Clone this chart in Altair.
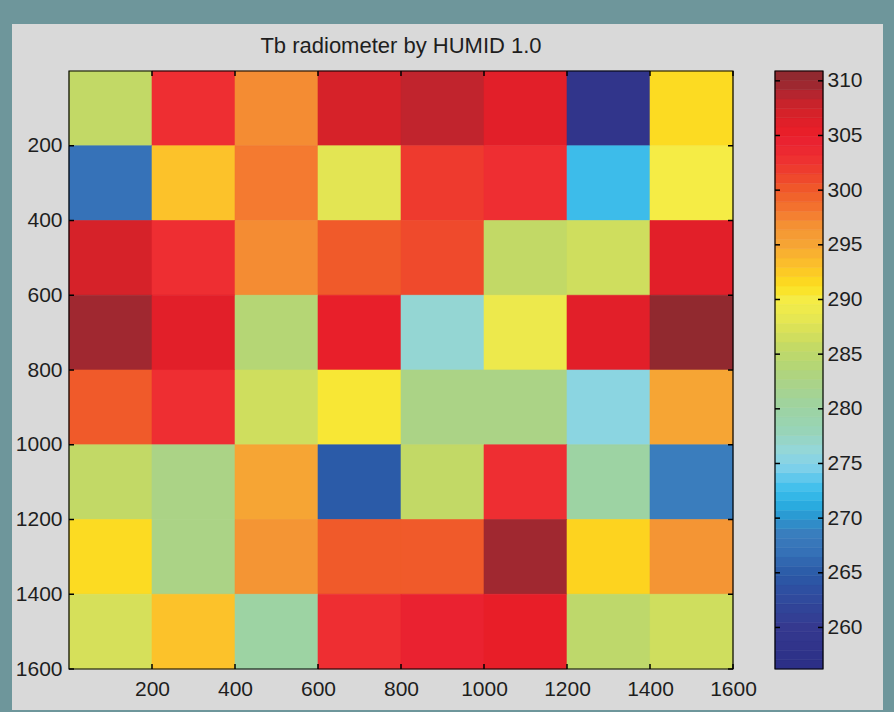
import altair as alt
import pandas as pd

# ---- data -------------------------------------------------------------
TITLE = "Tb radiometer by HUMID 1.0"
edges = [0, 200, 400, 600, 800, 1000, 1200, 1400, 1600]
ticks = [200, 400, 600, 800, 1000, 1200, 1400, 1600]

# brightness temperature (K), one list per image row, top to bottom
tb_rows = [
    [285.5, 303.0, 297.0, 307.0, 308.3, 306.0, 258.5, 291.5],
    [267.0, 293.0, 298.0, 288.0, 302.0, 303.0, 272.5, 290.0],
    [307.0, 303.0, 297.0, 300.0, 301.0, 285.5, 286.5, 306.0],
    [309.5, 306.0, 284.0, 305.3, 276.5, 289.0, 306.0, 310.5],
    [300.0, 303.0, 286.5, 290.5, 282.5, 282.5, 275.5, 295.0],
    [285.5, 282.5, 295.0, 265.0, 285.5, 303.0, 280.0, 268.5],
    [291.5, 282.5, 296.5, 300.0, 300.0, 309.5, 292.0, 296.5],
    [287.0, 293.0, 280.0, 303.0, 304.5, 305.5, 285.0, 286.5],
]

clim = [256.2, 310.9]
cbar_ticks = [260, 265, 270, 275, 280, 285, 290, 295, 300, 305, 310]
n_levels = 64

# colormap control points
cmap_stops = [256.2, 260, 263, 265, 267, 268.5, 270, 271.5, 273, 274.5, 276,
              278, 280, 282.5, 284, 285.5, 287, 288.5, 290, 291, 292, 293,
              294, 295, 296.5, 298, 299, 300, 301, 302, 303, 304.5, 305.5,
              306.5, 307.5, 308.5, 309.5, 310.9]
cmap_colors = ["#2b2e86", "#35398f", "#2f4c9f", "#2b5ba8", "#3672b8", "#3a7dbd",
               "#2a95cf", "#2ab2e4", "#47c1ed", "#7bd0eb", "#93d7dc",
               "#98d4b8", "#9dd3a3", "#abd386", "#b5d675", "#c2d966", "#d6e05a",
               "#e9e850", "#f5ec45", "#fbe225", "#fdd31f", "#fcc22a",
               "#fab52f", "#f6a534", "#f49534", "#f47a30", "#f2682c", "#f05a2a",
               "#ef4a2c", "#ee3a2e", "#ee2e32", "#ea2230", "#e81e28",
               "#dc2029", "#cf2329", "#bd242e", "#a02830", "#8b2a2f"]

# ---- tables -----------------------------------------------------------
cells = pd.DataFrame([
    {"x0": edges[c], "x1": edges[c + 1], "y0": edges[r], "y1": edges[r + 1], "tb": v}
    for r, row in enumerate(tb_rows) for c, v in enumerate(row)
])
tick_df = pd.DataFrame({"t": ticks})

step = (clim[1] - clim[0]) / n_levels
bands = pd.DataFrame({"i": range(n_levels)})
bands["lo"] = clim[0] + bands["i"] * step
bands["hi"] = bands["lo"] + step
bands["mid"] = bands["lo"] + step / 2
cbar_df = pd.DataFrame({"t": cbar_ticks})

# ---- styling ----------------------------------------------------------
FONT = "Liberation Sans"
TXT = "#1e1e1e"
PANEL = "#d9d9d9"
OUTER = "#6e969b"
W, H = 664, 598
CB_W = 48
TICK_LEN = 5

color_scale = alt.Scale(domain=cmap_stops, range=cmap_colors, interpolate="rgb", clamp=True)
xs = alt.Scale(domain=[0, 1600], nice=False, zero=False)
ys = alt.Scale(domain=[0, 1600], nice=False, zero=False, reverse=True)

axis_common = dict(tickSize=0, domain=False, grid=False, labelFontSize=21, format="d",
                   labelFont=FONT, labelColor=TXT, title=None, zindex=1,
                   labelFlush=False, labelOverlap=False)

# figure panel behind the axes
panel = alt.Chart(pd.DataFrame({"p": [0]})).mark_rect(color=PANEL).encode(
    x=alt.value(-57), x2=alt.value(814), y=alt.value(-47), y2=alt.value(639)
)

title = alt.Chart(pd.DataFrame({"label": [TITLE]})).mark_text(
    font=FONT, fontSize=22, color=TXT, align="center", baseline="middle"
).encode(text="label:N", x=alt.value(W / 2), y=alt.value(-25))

heat = alt.Chart(cells).mark_rect(strokeWidth=0.6).encode(
    x=alt.X("x0:Q", scale=xs, axis=alt.Axis(values=ticks, labelPadding=9, **axis_common)),
    x2="x1:Q",
    y=alt.Y("y0:Q", scale=ys, axis=alt.Axis(values=ticks, labelPadding=7, **axis_common)),
    y2="y1:Q",
    color=alt.Color("tb:Q", scale=color_scale, legend=None),
    stroke=alt.Stroke("tb:Q", scale=color_scale, legend=None),
)

frame = alt.Chart(pd.DataFrame({"p": [0]})).mark_rect(
    filled=False, stroke="black", strokeWidth=1.2
).encode(x=alt.datum(0), x2=alt.datum(1600), y=alt.datum(0), y2=alt.datum(1600))

tk = alt.Chart(tick_df).mark_rule(color="black", strokeWidth=1.5)
top_t = tk.encode(x="t:Q", y=alt.value(0), y2=alt.value(TICK_LEN))
bot_t = tk.encode(x="t:Q", y=alt.value(H - TICK_LEN), y2=alt.value(H))
left_t = tk.encode(y="t:Q", x=alt.value(0), x2=alt.value(TICK_LEN))
right_t = tk.encode(y="t:Q", x=alt.value(W - TICK_LEN), x2=alt.value(W))

heatmap = alt.layer(panel, title, heat, frame, top_t, bot_t, left_t, right_t).properties(
    width=W, height=H
)

# ---- colorbar ---------------------------------------------------------
cs = alt.Scale(domain=clim, nice=False, zero=False)
cb_bands = alt.Chart(bands).mark_rect(strokeWidth=0.5).encode(
    y=alt.Y("lo:Q", scale=cs, axis=alt.Axis(orient="right", values=cbar_ticks,
                                            labelPadding=4, **axis_common)),
    y2="hi:Q",
    x=alt.value(0), x2=alt.value(CB_W),
    color=alt.Color("mid:Q", scale=color_scale, legend=None),
    stroke=alt.Stroke("mid:Q", scale=color_scale, legend=None),
)
cb_frame = alt.Chart(pd.DataFrame({"p": [0]})).mark_rect(
    filled=False, stroke="black", strokeWidth=1.2
).encode(y=alt.datum(clim[0]), y2=alt.datum(clim[1]), x=alt.value(0), x2=alt.value(CB_W))
ct = alt.Chart(cbar_df).mark_rule(color="black", strokeWidth=1.5)
cb_l = ct.encode(y="t:Q", x=alt.value(0), x2=alt.value(TICK_LEN))
cb_r = ct.encode(y="t:Q", x=alt.value(CB_W - TICK_LEN), x2=alt.value(CB_W))

colorbar = alt.layer(cb_bands, cb_frame, cb_l, cb_r).properties(width=CB_W, height=H)

chart = alt.hconcat(heatmap, colorbar, spacing=42, bounds="flush").resolve_scale(
    x="independent", y="independent", color="independent", stroke="independent"
).properties(
    padding={"left": 12, "top": 24, "right": 11, "bottom": 2},
    background=OUTER,
).configure_view(stroke=None)

chart.save("out.html", embed_options={"renderer": "svg", "actions": False})
